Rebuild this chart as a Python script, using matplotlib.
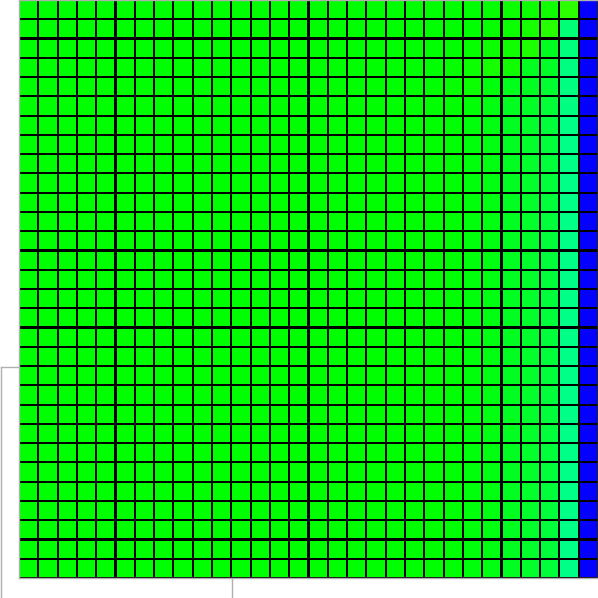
import numpy as np
import matplotlib
matplotlib.use("Agg")
import matplotlib.pyplot as plt
from matplotlib.colors import Normalize

# tint of each cell relative to pure green: >0 toward cyan/blue, <0 toward yellow
# (in RGB channel steps); 510 = pure blue
row_top = [
    [0]*20 + [0, 0, 0, 0, -5, -8, -10, -15, -40, 510],
    [0]*20 + [0, 0, 0, 0, -5, -10, -20, -35, 120, 510],
    [0]*20 + [0, 0, 0, -5, -10, -15, -25, 30, 125, 510],
    [0]*20 + [0, 0, -5, -10, -20, -15, 30, 40, 130, 510],
    [0]*20 + [0, 0, -5, -10, 10, 25, 35, 50, 130, 510],
    [0]*20 + [0, 0, 0, 5, 15, 30, 40, 55, 130, 510],
]
row_body = [0]*20 + [0, 3, 6, 10, 15, 35, 45, 60, 135, 510]
tint = np.array(row_top + [row_body] * 24, dtype=float)

fig = plt.figure(figsize=(5.98, 5.98), dpi=100)

ax2 = fig.add_axes([0.0015, -0.5, 231/598, (598-367)/598 + 0.5], zorder=0)
ax2.set_xticks([]); ax2.set_yticks([])
for s in ax2.spines.values():
    s.set_color("#b0b0b0"); s.set_linewidth(1.0)

ax = fig.add_axes([19/598, 20/598, 579/598, 578/598], zorder=1)
norm = Normalize(vmin=-0.4 * 255 / 0.186, vmax=0.6 * 255 / 0.186)
ax.pcolormesh(tint, cmap="gist_rainbow", norm=norm, edgecolors="black",
              linewidth=0.85, snap=False)
ax.invert_yaxis()
ax.set_xticks([]); ax.set_yticks([])
for s in ax.spines.values():
    s.set_color("#b0b0b0"); s.set_linewidth(1.0)

fig.savefig("out.png", dpi=100)
